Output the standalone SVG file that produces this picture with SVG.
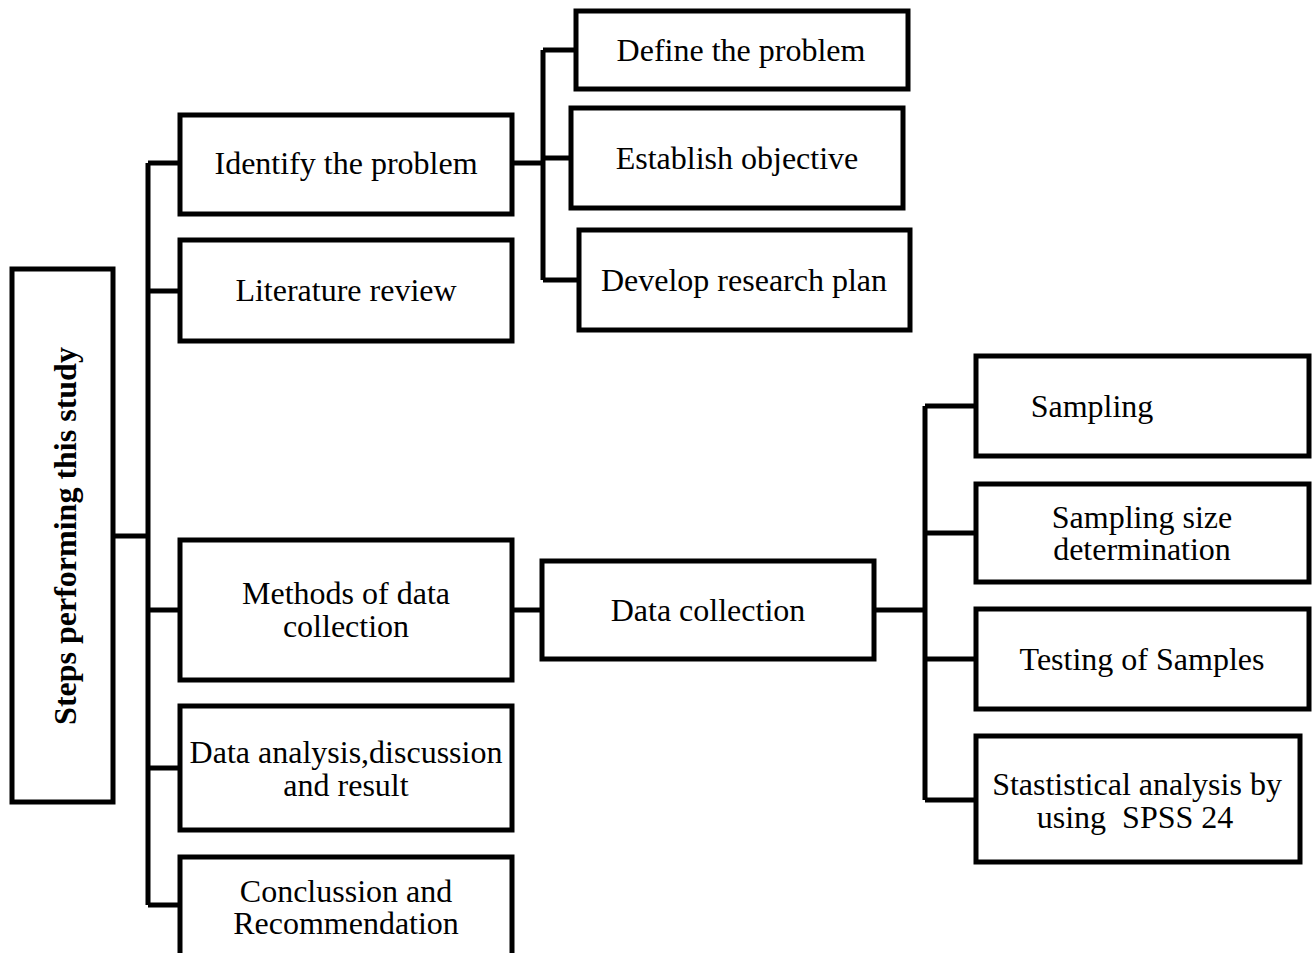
<svg xmlns="http://www.w3.org/2000/svg" width="1314" height="953" viewBox="0 0 1314 953">
<style>
.box{fill:#fff;stroke:#000;stroke-width:5}
.ln{fill:none;stroke:#000;stroke-width:5;stroke-linejoin:miter}
text{font-family:"Liberation Serif","Times New Roman",serif;font-size:32px;fill:#000;text-anchor:middle}
.b{font-weight:bold}
</style>
<rect width="1314" height="953" fill="#fff"/>
<g id="connectors">
<path class="ln" d="M114 536 H148 M148 163 V905 M148 163 H179 M148 291 H179 M148 610 H179 M148 768 H179 M148 905 H179"/>
<path class="ln" d="M513 163 H543 M543 50 V280 M543 50 H575 M543 158 H570 M543 280 H578"/>
<path class="ln" d="M513 610 H541"/>
<path class="ln" d="M875 610 H925 M925 406 V800 M925 406 H975 M925 533 H975 M925 659 H975 M925 800 H975"/>
</g>
<g id="steps"><rect class="box" x="12" y="269" width="101" height="533"/><text class="b" transform="translate(76,536) rotate(-90)">Steps performing this study</text></g>
<g id="identify"><rect class="box" x="180" y="115" width="332" height="99"/><text x="346" y="174">Identify the problem</text></g>
<g id="literature"><rect class="box" x="180" y="240" width="332" height="101"/><text x="346" y="301">Literature review</text></g>
<g id="methods"><rect class="box" x="180" y="540" width="332" height="140"/><text x="346" y="604">Methods of data</text><text x="346" y="637">collection</text></g>
<g id="analysis"><rect class="box" x="180" y="706" width="332" height="124"/><text x="346" y="763">Data analysis,discussion</text><text x="346" y="796">and result</text></g>
<g id="conclusion"><rect class="box" x="180" y="857" width="332" height="110"/><text x="346" y="902">Conclussion and</text><text x="346" y="934">Recommendation</text></g>
<g id="define"><rect class="box" x="576" y="11" width="332" height="78"/><text x="741" y="61">Define the problem</text></g>
<g id="establish"><rect class="box" x="571" y="108" width="332" height="100"/><text x="737" y="169">Establish objective</text></g>
<g id="develop"><rect class="box" x="579" y="230" width="331" height="100"/><text x="744" y="291">Develop research plan</text></g>
<g id="datacollection"><rect class="box" x="542" y="561" width="332" height="98"/><text x="708" y="621">Data collection</text></g>
<g id="sampling"><rect class="box" x="976" y="356" width="333" height="100"/><text x="1092" y="417">Sampling</text></g>
<g id="samplingsize"><rect class="box" x="976" y="484" width="333" height="98"/><text x="1142" y="528">Sampling size</text><text x="1142" y="560">determination</text></g>
<g id="testing"><rect class="box" x="976" y="609" width="333" height="100"/><text x="1142" y="670">Testing of Samples</text></g>
<g id="statistical"><rect class="box" x="976" y="736" width="324" height="126"/><text x="1137" y="795">Stastistical analysis by</text><text x="1135" y="828" xml:space="preserve">using  SPSS 24</text></g>
</svg>
